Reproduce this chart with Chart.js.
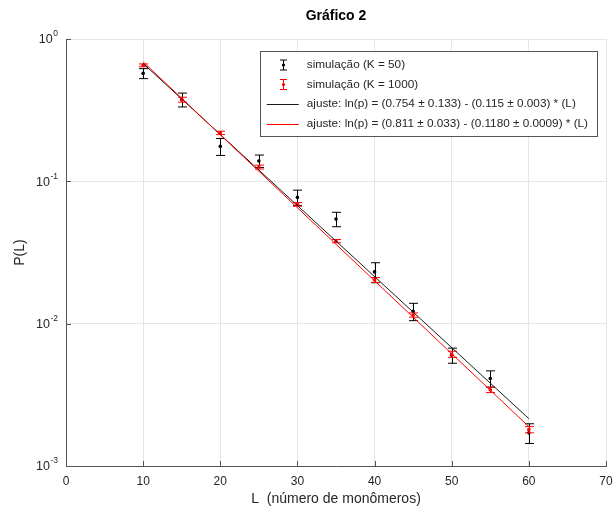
<!DOCTYPE html>
<html>
<head>
<meta charset="utf-8">
<title>Gráfico 2</title>
<script src="https://cdn.jsdelivr.net/npm/chart.js@4.4.1/dist/chart.umd.min.js"></script>
<style>
  html, body { margin: 0; padding: 0; background: #fff; }
  #wrap { width: 616px; height: 514px; }
</style>
</head>
<body>
<div id="wrap"><canvas id="chart" width="616" height="514"></canvas></div>
<script>
// polymer length L
const L = [10, 15, 20, 25, 30, 35, 40, 45, 50, 55, 60];

// simulation K = 50
const pK50   = [0.573, 0.375, 0.176, 0.139, 0.0771, 0.0543, 0.0231, 0.0122, 0.0060, 0.00412, 0.00171];
const errK50 = [0.046, 0.042, 0.024, 0.014, 0.0096, 0.0063, 0.0037, 0.0017, 0.00073, 0.00054, 0.00027];

// simulation K = 1000
const pK1000   = [0.653, 0.375, 0.219, 0.126, 0.0689, 0.0380, 0.0203, 0.0115, 0.0061, 0.00343, 0.00180];
const errK1000 = [0.015, 0.015, 0.006, 0.004, 0.002, 0.001, 0.0008, 0.0004, 0.0003, 0.00015, 0.00009];

// fitted lines, end points (L = 10 and L = 60)
const fitL     = [10, 60];
const fitK50   = [0.673, 0.00215];
const fitK1000 = [0.691, 0.00189];

const yTickValues = [0.001, 0.01, 0.1, 1];
const yTickExp    = ['-3', '-2', '-1', '0'];

const titleText = 'Gráfico 2';
const labels = [
    'simulação (K = 50)',
    'simulação (K = 1000)',
    'ajuste: ln(p) = (0.754 ± 0.133) - (0.115 ± 0.003) * (L)',
    'ajuste: ln(p) = (0.811 ± 0.033) - (0.1180 ± 0.0009) * (L)'
];

const FONT = "'Liberation Sans', Arial, sans-serif";
Chart.defaults.font.family = FONT;
Chart.defaults.color = '#262626';

const toPoints = (xs, ys) => xs.map((v, i) => ({x: v, y: ys[i]}));

// vertical error bars, drawn right after each dataset's points
const errorBars = {
    id: 'errorBars',
    afterDatasetDraw(chart, args) {
        const ds = chart.data.datasets[args.index];
        if (!ds.errors) return;
        const xs = chart.scales.x, ys = chart.scales.y;
        const ctx = chart.ctx;
        ctx.save();
        ctx.strokeStyle = ds.borderColor;
        ctx.lineWidth = 1;
        ds.data.forEach((p, i) => {
            const e = ds.errors[i];
            const px = Math.round(xs.getPixelForValue(p.x)) + 0.5;
            const top = ys.getPixelForValue(p.y + e);
            const bot = ys.getPixelForValue(p.y - e);
            ctx.beginPath();
            ctx.moveTo(px, top); ctx.lineTo(px, bot);
            ctx.moveTo(px - 4.5, top); ctx.lineTo(px + 4.5, top);
            ctx.moveTo(px - 4.5, bot); ctx.lineTo(px + 4.5, bot);
            ctx.stroke();
        });
        ctx.restore();
    }
};

// small inward tick marks, title over the plot area, 10^n labels
const axesExtras = {
    id: 'axesExtras',
    afterDatasetsDraw(chart) {
        const {ctx, chartArea} = chart;
        const xs = chart.scales.x, ys = chart.scales.y;
        ctx.save();
        ctx.strokeStyle = '#555';
        ctx.lineWidth = 1;
        ctx.beginPath();
        xs.ticks.forEach(t => {
            const px = Math.round(xs.getPixelForValue(t.value)) + 0.5;
            ctx.moveTo(px, chartArea.bottom);
            ctx.lineTo(px, chartArea.bottom - 5);
        });
        ys.ticks.forEach(t => {
            const py = Math.round(ys.getPixelForValue(t.value)) + 0.5;
            ctx.moveTo(chartArea.left, py);
            ctx.lineTo(chartArea.left + 5, py);
        });
        ctx.stroke();

        // y tick labels as 10 with raised exponent
        ctx.fillStyle = '#262626';
        ctx.textBaseline = 'middle';
        ys.ticks.forEach(t => {
            const py = ys.getPixelForValue(t.value);
            const ex = yTickExp[yTickValues.indexOf(t.value)];
            ctx.font = '8.5px ' + FONT;
            ctx.textAlign = 'right';
            const right = chartArea.left - 8;
            const ew = ctx.measureText(ex).width;
            ctx.fillText(ex, right, py - 5);
            ctx.font = '12.5px ' + FONT;
            ctx.fillText('10', right - ew - 0.5, py + 1);
        });

        // title centred over the plot area
        ctx.font = 'bold 14px ' + FONT;
        ctx.fillStyle = '#000';
        ctx.textAlign = 'center';
        ctx.fillText(titleText, (chartArea.left + chartArea.right) / 2, 16);
        ctx.restore();
    }
};

// boxed legend in the upper right corner of the plot
const boxLegend = {
    id: 'boxLegend',
    afterDraw(chart) {
        const {ctx, chartArea} = chart;
        const sets = chart.data.datasets;
        ctx.save();
        ctx.font = '11.75px ' + FONT;
        const textW = Math.max(...sets.map(d => ctx.measureText(d.label).width));
        const w = textW + 47 + 9;
        const h = 85;
        const right = chartArea.right - 9;
        const left = right - w;
        const top = chartArea.top + 12;
        ctx.fillStyle = '#fff';
        ctx.fillRect(left, top, w, h);
        ctx.strokeStyle = '#555';
        ctx.lineWidth = 1;
        ctx.strokeRect(Math.round(left) + 0.5, Math.round(top) + 0.5, Math.round(w), h);

        sets.forEach((d, i) => {
            const yy = top + 14 + i * 19.5;
            ctx.strokeStyle = d.borderColor;
            ctx.fillStyle = d.borderColor;
            if (d.errors) {
                const cx = Math.round(left + 23) + 0.5;
                ctx.beginPath();
                ctx.moveTo(cx, yy - 5); ctx.lineTo(cx, yy + 5);
                ctx.moveTo(cx - 3.5, yy - 5); ctx.lineTo(cx + 3.5, yy - 5);
                ctx.moveTo(cx - 3.5, yy + 5); ctx.lineTo(cx + 3.5, yy + 5);
                ctx.stroke();
                ctx.beginPath();
                ctx.arc(cx, yy, 1.6, 0, Math.PI * 2);
                ctx.fill();
            } else {
                ctx.beginPath();
                ctx.moveTo(left + 7, Math.round(yy) + 0.5);
                ctx.lineTo(left + 39, Math.round(yy) + 0.5);
                ctx.stroke();
            }
            ctx.fillStyle = '#262626';
            ctx.textBaseline = 'middle';
            ctx.fillText(d.label, left + 47, yy);
        });
        ctx.restore();
    }
};

new Chart(document.getElementById('chart'), {
    type: 'scatter',
    data: {
        datasets: [{
            label: labels[0],
            data: toPoints(L, pK50),
            errors: errK50,
            borderColor: '#000',
            backgroundColor: '#000',
            pointRadius: 1.8,
            pointBorderWidth: 0,
            showLine: false,
            order: 4
        }, {
            label: labels[1],
            data: toPoints(L, pK1000),
            errors: errK1000,
            borderColor: '#ff0000',
            backgroundColor: '#ff0000',
            pointRadius: 1.8,
            pointBorderWidth: 0,
            showLine: false,
            order: 3
        }, {
            label: labels[2],
            data: toPoints(fitL, fitK50),
            borderColor: '#1a1a1a',
            backgroundColor: '#1a1a1a',
            borderWidth: 1,
            pointRadius: 0,
            showLine: true,
            order: 2
        }, {
            label: labels[3],
            data: toPoints(fitL, fitK1000),
            borderColor: '#ff0000',
            backgroundColor: '#ff0000',
            borderWidth: 1,
            pointRadius: 0,
            showLine: true,
            order: 1
        }]
    },
    options: {
        responsive: false,
        animation: false,
        layout: { padding: { left: 0, right: 10, top: 39, bottom: 0 } },
        plugins: {
            legend: { display: false },
            tooltip: { enabled: false },
            title: { display: false }
        },
        scales: {
            x: {
                type: 'linear',
                min: 0,
                max: 70,
                ticks: { stepSize: 10, padding: 8, font: { size: 12 }, color: '#262626' },
                grid: { color: '#e5e5e5', drawTicks: false },
                border: { color: '#555' },
                title: {
                    display: true,
                    text: 'L  (número de monômeros)',
                    font: { size: 14 },
                    color: '#262626',
                    padding: { top: 0, bottom: 6.6 }
                },
                afterFit: scale => {
                    scale.height = 48;
                    scale.paddingLeft = 0;
                    scale.paddingRight = 0;
                }
            },
            y: {
                type: 'logarithmic',
                min: 0.001,
                max: 1,
                afterBuildTicks: scale => {
                    scale.ticks = yTickValues.map(v => ({ value: v }));
                },
                ticks: { display: false },
                grid: { color: '#e5e5e5', drawTicks: false },
                border: { color: '#555' },
                title: {
                    display: true,
                    text: 'P(L)',
                    font: { size: 14 },
                    color: '#262626',
                    padding: { top: 11.6, bottom: 0 }
                },
                afterFit: scale => { scale.width = 66; }
            }
        }
    },
    plugins: [errorBars, axesExtras, boxLegend]
});
</script>
</body>
</html>
